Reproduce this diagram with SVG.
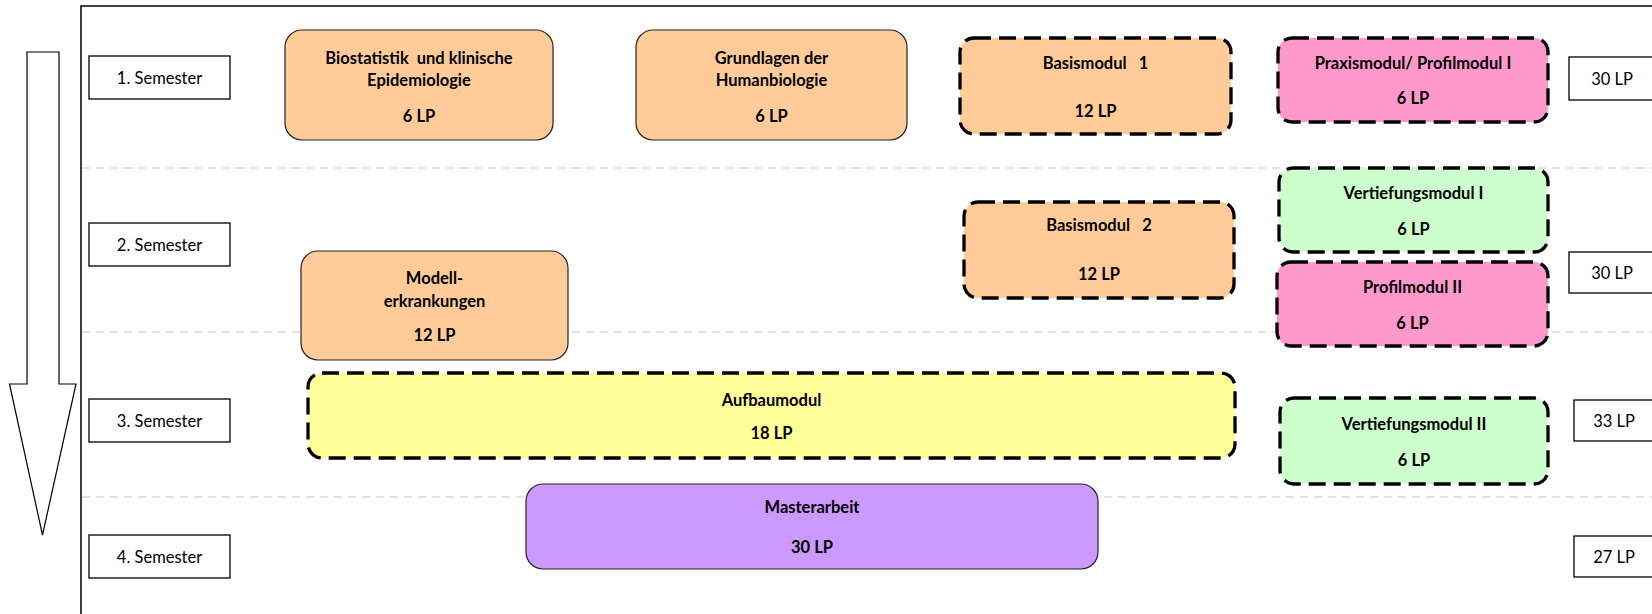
<svg xmlns="http://www.w3.org/2000/svg" width="1652" height="614" viewBox="0 0 1652 614">
<style>
.bg{fill:#ffffff}
.sep{stroke:#d9d9d9;stroke-width:1.5;stroke-dasharray:8 6;fill:none}
.frame{stroke:#000;stroke-width:1.5;fill:none}
.lbl{fill:#fff;stroke:#000;stroke-width:1.3}
.lt{font-family:Lato,"Liberation Sans",sans-serif;font-size:16.5px;fill:#000;text-anchor:middle}
.solid{stroke:#222;stroke-width:1.2}
.dash{stroke:#000;stroke-width:3.3;stroke-dasharray:17 8}
.bt{font-family:Lato,"Liberation Sans",sans-serif;font-size:16.5px;font-weight:bold;fill:#000;text-anchor:middle}
.orange{fill:#ffcc99}
.pink{fill:#ff99cc}
.green{fill:#ccffcc}
.yellow{fill:#ffff99}
.purple{fill:#cc99ff}
</style>
<rect class="bg" x="0" y="0" width="1652" height="614"/>
<g id="frame">
<path class="frame" d="M81,614 V6 H1652"/>
</g>
<g id="separators">
<line class="sep" x1="82" y1="168" x2="1652" y2="168"/>
<line class="sep" x1="82" y1="332" x2="1652" y2="332"/>
<line class="sep" x1="82" y1="497" x2="1652" y2="497"/>
</g>
<g id="time-arrow">
<path d="M27,52 H59 V384 H76 L42.5,535 L9.5,384 H27 Z" fill="#fff" stroke="#000" stroke-width="1.2"/>
</g>
<g id="sem1"><rect class="lbl" x="89" y="56" width="141" height="43"/><text class="lt" x="159.5" y="83.5">1. Semester</text></g>
<g id="sem2"><rect class="lbl" x="89" y="223" width="141" height="43"/><text class="lt" x="159.5" y="250.5">2. Semester</text></g>
<g id="sem3"><rect class="lbl" x="89" y="399" width="141" height="43"/><text class="lt" x="159.5" y="426.5">3. Semester</text></g>
<g id="sem4"><rect class="lbl" x="89" y="535" width="141" height="43"/><text class="lt" x="159.5" y="562.5">4. Semester</text></g>
<g id="lp1"><rect class="lbl" x="1569" y="57" width="90" height="43"/><text class="lt" x="1612" y="84.5">30 LP</text></g>
<g id="lp2"><rect class="lbl" x="1569" y="252" width="90" height="41"/><text class="lt" x="1612" y="278.5">30 LP</text></g>
<g id="lp3"><rect class="lbl" x="1574" y="400" width="85" height="41"/><text class="lt" x="1614" y="426.5">33 LP</text></g>
<g id="lp4"><rect class="lbl" x="1574" y="536" width="85" height="41"/><text class="lt" x="1614" y="562.5">27 LP</text></g>
<g id="biostatistik">
<rect class="orange solid" x="285" y="30" width="268" height="110" rx="17"/>
<text class="bt" x="419" y="64" xml:space="preserve">Biostatistik  und klinische</text>
<text class="bt" x="419" y="86">Epidemiologie</text>
<text class="bt" x="419" y="122">6 LP</text>
</g>
<g id="grundlagen">
<rect class="orange solid" x="636" y="30" width="271" height="110" rx="17"/>
<text class="bt" x="771.5" y="64">Grundlagen der</text>
<text class="bt" x="771.5" y="86">Humanbiologie</text>
<text class="bt" x="771.5" y="122">6 LP</text>
</g>
<g id="basismodul1">
<rect class="orange dash" x="960" y="38" width="271" height="96" rx="14"/>
<text class="bt" x="1095.5" y="69" xml:space="preserve">Basismodul   1</text>
<text class="bt" x="1095.5" y="117">12 LP</text>
</g>
<g id="praxismodul">
<rect class="pink dash" x="1278" y="38" width="270" height="84" rx="14"/>
<text class="bt" x="1413" y="69">Praxismodul/ Profilmodul I</text>
<text class="bt" x="1413" y="104">6 LP</text>
</g>
<g id="vertiefungsmodul1">
<rect class="green dash" x="1279" y="168" width="269" height="84" rx="14"/>
<text class="bt" x="1413.5" y="199">Vertiefungsmodul I</text>
<text class="bt" x="1413.5" y="235">6 LP</text>
</g>
<g id="basismodul2">
<rect class="orange dash" x="964" y="202" width="270" height="96" rx="14"/>
<text class="bt" x="1099" y="231" xml:space="preserve">Basismodul   2</text>
<text class="bt" x="1099" y="280">12 LP</text>
</g>
<g id="profilmodul2">
<rect class="pink dash" x="1277" y="262" width="271" height="84" rx="14"/>
<text class="bt" x="1412.5" y="293">Profilmodul II</text>
<text class="bt" x="1412.5" y="329">6 LP</text>
</g>
<g id="modellerkrankungen">
<rect class="orange solid" x="301" y="251" width="267" height="109" rx="17"/>
<text class="bt" x="434.5" y="284">Modell-</text>
<text class="bt" x="434.5" y="307">erkrankungen</text>
<text class="bt" x="434.5" y="341">12 LP</text>
</g>
<g id="aufbaumodul">
<rect class="yellow dash" x="308" y="373" width="927" height="85" rx="14"/>
<text class="bt" x="771.5" y="406">Aufbaumodul</text>
<text class="bt" x="771.5" y="439">18 LP</text>
</g>
<g id="vertiefungsmodul2">
<rect class="green dash" x="1280" y="398" width="268" height="86" rx="14"/>
<text class="bt" x="1414" y="430">Vertiefungsmodul II</text>
<text class="bt" x="1414" y="466">6 LP</text>
</g>
<g id="masterarbeit">
<rect class="purple solid" x="526" y="484" width="572" height="85" rx="17"/>
<text class="bt" x="812" y="513">Masterarbeit</text>
<text class="bt" x="812" y="553">30 LP</text>
</g>
<g id="connectors"></g>
</svg>
